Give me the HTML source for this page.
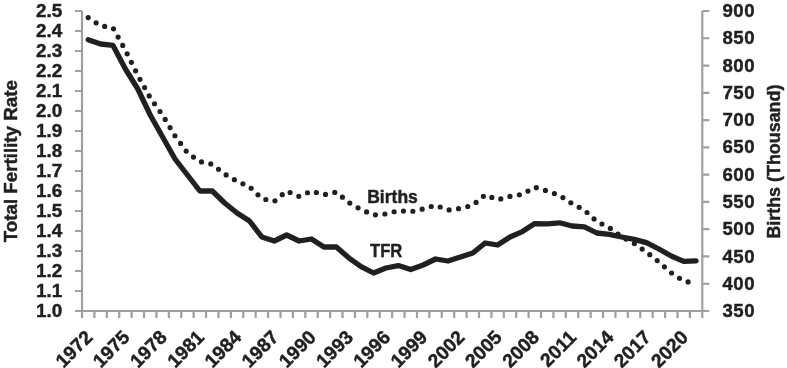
<!DOCTYPE html>
<html><head><meta charset="utf-8"><style>
html,body{margin:0;padding:0;background:#fff;}
svg{display:block;filter:grayscale(1);}
text{font-family:"Liberation Sans",sans-serif;font-weight:bold;font-size:17.5px;fill:#231f20;stroke:#231f20;stroke-width:0.45px;}
</style></head><body>
<svg width="787" height="368" viewBox="0 0 787 368">
<path d="M82.0 11.0V311.0H702.3V11.0" fill="none" stroke="#9fa0a6" stroke-width="2.2"/>
<path d="M75.0 11.00H82.0M75.0 31.00H82.0M75.0 51.00H82.0M75.0 71.00H82.0M75.0 91.00H82.0M75.0 111.00H82.0M75.0 131.00H82.0M75.0 151.00H82.0M75.0 171.00H82.0M75.0 191.00H82.0M75.0 211.00H82.0M75.0 231.00H82.0M75.0 251.00H82.0M75.0 271.00H82.0M75.0 291.00H82.0M75.0 311.00H82.0M702.3 11.00H709.3M702.3 38.27H709.3M702.3 65.55H709.3M702.3 92.82H709.3M702.3 120.09H709.3M702.3 147.36H709.3M702.3 174.64H709.3M702.3 201.91H709.3M702.3 229.18H709.3M702.3 256.45H709.3M702.3 283.73H709.3M702.3 311.00H709.3M82.00 311.0V318.0M94.41 311.0V318.0M106.81 311.0V318.0M119.22 311.0V318.0M131.62 311.0V318.0M144.03 311.0V318.0M156.44 311.0V318.0M168.84 311.0V318.0M181.25 311.0V318.0M193.65 311.0V318.0M206.06 311.0V318.0M218.47 311.0V318.0M230.87 311.0V318.0M243.28 311.0V318.0M255.68 311.0V318.0M268.09 311.0V318.0M280.50 311.0V318.0M292.90 311.0V318.0M305.31 311.0V318.0M317.71 311.0V318.0M330.12 311.0V318.0M342.53 311.0V318.0M354.93 311.0V318.0M367.34 311.0V318.0M379.74 311.0V318.0M392.15 311.0V318.0M404.56 311.0V318.0M416.96 311.0V318.0M429.37 311.0V318.0M441.77 311.0V318.0M454.18 311.0V318.0M466.59 311.0V318.0M478.99 311.0V318.0M491.40 311.0V318.0M503.80 311.0V318.0M516.21 311.0V318.0M528.62 311.0V318.0M541.02 311.0V318.0M553.43 311.0V318.0M565.83 311.0V318.0M578.24 311.0V318.0M590.65 311.0V318.0M603.05 311.0V318.0M615.46 311.0V318.0M627.86 311.0V318.0M640.27 311.0V318.0M652.68 311.0V318.0M665.08 311.0V318.0M677.49 311.0V318.0M689.89 311.0V318.0M702.30 311.0V318.0" fill="none" stroke="#9fa0a6" stroke-width="2.2"/>
<polyline points="88.20,17.55 100.61,25.73 113.02,27.91 125.42,50.27 137.83,75.36 150.23,97.73 162.64,115.18 175.04,135.91 187.45,152.82 199.86,161.55 212.26,164.27 224.67,174.09 237.07,181.18 249.48,186.64 261.89,198.64 274.29,201.36 286.70,191.00 299.11,196.45 311.51,191.00 323.92,194.82 336.32,192.09 348.73,202.45 361.13,209.55 373.54,215.00 385.95,213.91 398.35,210.64 410.76,211.73 423.16,209.00 435.57,205.18 447.98,210.09 460.38,208.45 472.79,205.18 485.19,194.82 497.60,199.73 510.01,196.45 522.41,194.27 534.82,187.18 547.22,191.00 559.63,195.36 572.04,203.55 584.44,210.09 596.85,221.55 609.25,227.55 621.66,236.82 634.07,243.36 646.47,252.09 658.88,261.91 671.28,272.82 683.69,281.00 696.10,283.73" fill="none" stroke="#231f20" stroke-width="5.2" stroke-linecap="round" stroke-linejoin="round" stroke-dasharray="0 9.5"/>
<polyline points="88.20,39.80 100.61,44.00 113.02,45.40 125.42,69.00 137.83,89.00 150.23,115.00 162.64,137.00 175.04,159.00 187.45,175.00 199.86,191.00 212.26,191.00 224.67,203.00 237.07,213.00 249.48,221.00 261.89,237.00 274.29,241.00 286.70,235.00 299.11,241.00 311.51,239.00 323.92,247.00 336.32,247.00 348.73,257.80 361.13,266.60 373.54,273.00 385.95,268.00 398.35,265.60 410.76,269.60 423.16,265.00 435.57,259.00 447.98,261.00 460.38,257.00 472.79,253.00 485.19,243.00 497.60,245.00 510.01,237.00 522.41,231.60 534.82,223.60 547.22,223.80 559.63,222.80 572.04,226.00 584.44,226.80 596.85,233.00 609.25,234.40 621.66,237.00 634.07,239.40 646.47,242.60 658.88,249.00 671.28,256.00 683.69,261.40 696.10,260.80" fill="none" stroke="#231f20" stroke-width="5.3" stroke-linecap="round" stroke-linejoin="round"/>
<text x="62.3" y="17.10" text-anchor="end" style="font-size:18.9px">2.5</text>
<text x="62.3" y="37.10" text-anchor="end" style="font-size:18.9px">2.4</text>
<text x="62.3" y="57.10" text-anchor="end" style="font-size:18.9px">2.3</text>
<text x="62.3" y="77.10" text-anchor="end" style="font-size:18.9px">2.2</text>
<text x="62.3" y="97.10" text-anchor="end" style="font-size:18.9px">2.1</text>
<text x="62.3" y="117.10" text-anchor="end" style="font-size:18.9px">2.0</text>
<text x="62.3" y="137.10" text-anchor="end" style="font-size:18.9px">1.9</text>
<text x="62.3" y="157.10" text-anchor="end" style="font-size:18.9px">1.8</text>
<text x="62.3" y="177.10" text-anchor="end" style="font-size:18.9px">1.7</text>
<text x="62.3" y="197.10" text-anchor="end" style="font-size:18.9px">1.6</text>
<text x="62.3" y="217.10" text-anchor="end" style="font-size:18.9px">1.5</text>
<text x="62.3" y="237.10" text-anchor="end" style="font-size:18.9px">1.4</text>
<text x="62.3" y="257.10" text-anchor="end" style="font-size:18.9px">1.3</text>
<text x="62.3" y="277.10" text-anchor="end" style="font-size:18.9px">1.2</text>
<text x="62.3" y="297.10" text-anchor="end" style="font-size:18.9px">1.1</text>
<text x="62.3" y="317.10" text-anchor="end" style="font-size:18.9px">1.0</text>
<text x="722.5" y="17.10" style="font-size:18.6px;letter-spacing:0.5px">900</text>
<text x="722.5" y="44.37" style="font-size:18.6px;letter-spacing:0.5px">850</text>
<text x="722.5" y="71.65" style="font-size:18.6px;letter-spacing:0.5px">800</text>
<text x="722.5" y="98.92" style="font-size:18.6px;letter-spacing:0.5px">750</text>
<text x="722.5" y="126.19" style="font-size:18.6px;letter-spacing:0.5px">700</text>
<text x="722.5" y="153.46" style="font-size:18.6px;letter-spacing:0.5px">650</text>
<text x="722.5" y="180.74" style="font-size:18.6px;letter-spacing:0.5px">600</text>
<text x="722.5" y="208.01" style="font-size:18.6px;letter-spacing:0.5px">550</text>
<text x="722.5" y="235.28" style="font-size:18.6px;letter-spacing:0.5px">500</text>
<text x="722.5" y="262.55" style="font-size:18.6px;letter-spacing:0.5px">450</text>
<text x="722.5" y="289.83" style="font-size:18.6px;letter-spacing:0.5px">400</text>
<text x="722.5" y="317.10" style="font-size:18.6px;letter-spacing:0.5px">350</text>
<text transform="translate(93.70,338.5) rotate(-45)" text-anchor="end" style="font-size:19.2px">1972</text>
<text transform="translate(130.92,338.5) rotate(-45)" text-anchor="end" style="font-size:19.2px">1975</text>
<text transform="translate(168.14,338.5) rotate(-45)" text-anchor="end" style="font-size:19.2px">1978</text>
<text transform="translate(205.36,338.5) rotate(-45)" text-anchor="end" style="font-size:19.2px">1981</text>
<text transform="translate(242.57,338.5) rotate(-45)" text-anchor="end" style="font-size:19.2px">1984</text>
<text transform="translate(279.79,338.5) rotate(-45)" text-anchor="end" style="font-size:19.2px">1987</text>
<text transform="translate(317.01,338.5) rotate(-45)" text-anchor="end" style="font-size:19.2px">1990</text>
<text transform="translate(354.23,338.5) rotate(-45)" text-anchor="end" style="font-size:19.2px">1993</text>
<text transform="translate(391.45,338.5) rotate(-45)" text-anchor="end" style="font-size:19.2px">1996</text>
<text transform="translate(428.66,338.5) rotate(-45)" text-anchor="end" style="font-size:19.2px">1999</text>
<text transform="translate(465.88,338.5) rotate(-45)" text-anchor="end" style="font-size:19.2px">2002</text>
<text transform="translate(503.10,338.5) rotate(-45)" text-anchor="end" style="font-size:19.2px">2005</text>
<text transform="translate(540.32,338.5) rotate(-45)" text-anchor="end" style="font-size:19.2px">2008</text>
<text transform="translate(577.54,338.5) rotate(-45)" text-anchor="end" style="font-size:19.2px">2011</text>
<text transform="translate(614.75,338.5) rotate(-45)" text-anchor="end" style="font-size:19.2px">2014</text>
<text transform="translate(651.97,338.5) rotate(-45)" text-anchor="end" style="font-size:19.2px">2017</text>
<text transform="translate(689.19,338.5) rotate(-45)" text-anchor="end" style="font-size:19.2px">2020</text>
<text transform="translate(17,161.2) rotate(-90)" text-anchor="middle" style="font-size:18.75px">Total Fertility Rate</text>
<text transform="translate(779.8,161.6) rotate(-90)" text-anchor="middle" style="font-size:17.9px">Births (Thousand)</text>
<text transform="translate(367.2,202.7) scale(0.975,1)" style="font-size:18px">Births</text>
<text transform="translate(370.0,256.6) scale(0.875,1)" style="font-size:19px">TFR</text>
</svg>
</body></html>
